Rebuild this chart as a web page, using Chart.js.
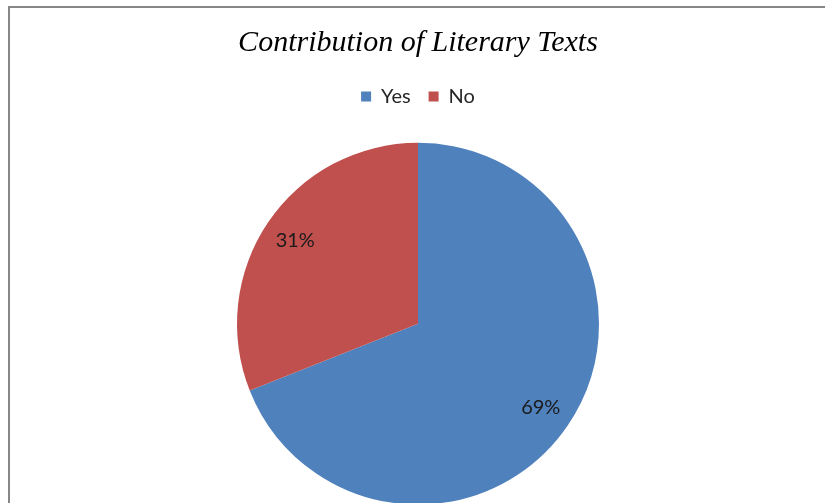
<!DOCTYPE html>
<html>
<head>
<meta charset="utf-8">
<script src="https://cdn.jsdelivr.net/npm/chart.js@4/dist/chart.umd.min.js"></script>
<style>
  html, body { margin: 0; padding: 0; background: #fff; overflow: hidden; }
  #wrap { width: 825px; height: 503px; overflow: hidden; }
</style>
</head>
<body>
<div id="wrap"><canvas id="chart" width="825" height="531"></canvas></div>
<script>
// Contribution of Literary Texts - pie

const labels = ['Yes', 'No'];
const values = [69, 31];
const colors = ['#4F81BD', '#C0504D'];

// frame line of the original chart box (cropped on the right and bottom)
const framePlugin = {
  id: 'frame',
  beforeDraw(c) {
    const ctx = c.ctx;
    ctx.save();
    ctx.fillStyle = '#fff';
    ctx.fillRect(0, 0, c.width, c.height);
    ctx.strokeStyle = '#878787';
    ctx.lineWidth = 2;
    ctx.beginPath();
    ctx.moveTo(9, c.height);
    ctx.lineTo(9, 7);
    ctx.lineTo(c.width, 7);
    ctx.stroke();
    ctx.restore();
  }
};

// percent labels inside the slices
const sliceLabels = {
  id: 'sliceLabels',
  afterDatasetsDraw(c) {
    const ctx = c.ctx;
    const meta = c.getDatasetMeta(0);
    const total = values.reduce((a, b) => a + b, 0);
    ctx.save();
    ctx.font = '20px Lato';
    ctx.fillStyle = '#1a1a1a';
    ctx.textAlign = 'center';
    ctx.textBaseline = 'middle';
    meta.data.forEach((arc, i) => {
      const p = arc.getProps(['x', 'y', 'startAngle', 'endAngle', 'outerRadius'], true);
      const mid = (p.startAngle + p.endAngle) / 2;
      const r = p.outerRadius * 0.82;
      const pct = Math.round(values[i] / total * 100) + '%';
      ctx.fillText(pct, p.x + Math.cos(mid) * r, p.y + Math.sin(mid) * r);
    });
    ctx.restore();
  }
};

const chart = new Chart(document.getElementById('chart'), {
  type: 'pie',
  data: {
    labels: labels,
    datasets: [{
      data: values,
      backgroundColor: colors,
      borderWidth: 0,
      radius: 181
    }]
  },
  options: {
    responsive: false,
    animation: false,
    layout: { padding: { left: 11 } },
    plugins: {
      title: {
        display: true,
        text: 'Contribution of Literary Texts',
        color: '#000',
        font: { family: 'Liberation Serif', style: 'italic', size: 30, weight: 'normal' },
        padding: { top: 25, bottom: 7.6 }
      },
      legend: {
        position: 'top',
        labels: {
          boxWidth: 10,
          boxHeight: 10,
          padding: 18,
          color: '#262626',
          font: { family: 'Lato', size: 20 }
        }
      },
      tooltip: { enabled: false }
    }
  },
  plugins: [framePlugin, sliceLabels]
});
</script>
</body>
</html>
